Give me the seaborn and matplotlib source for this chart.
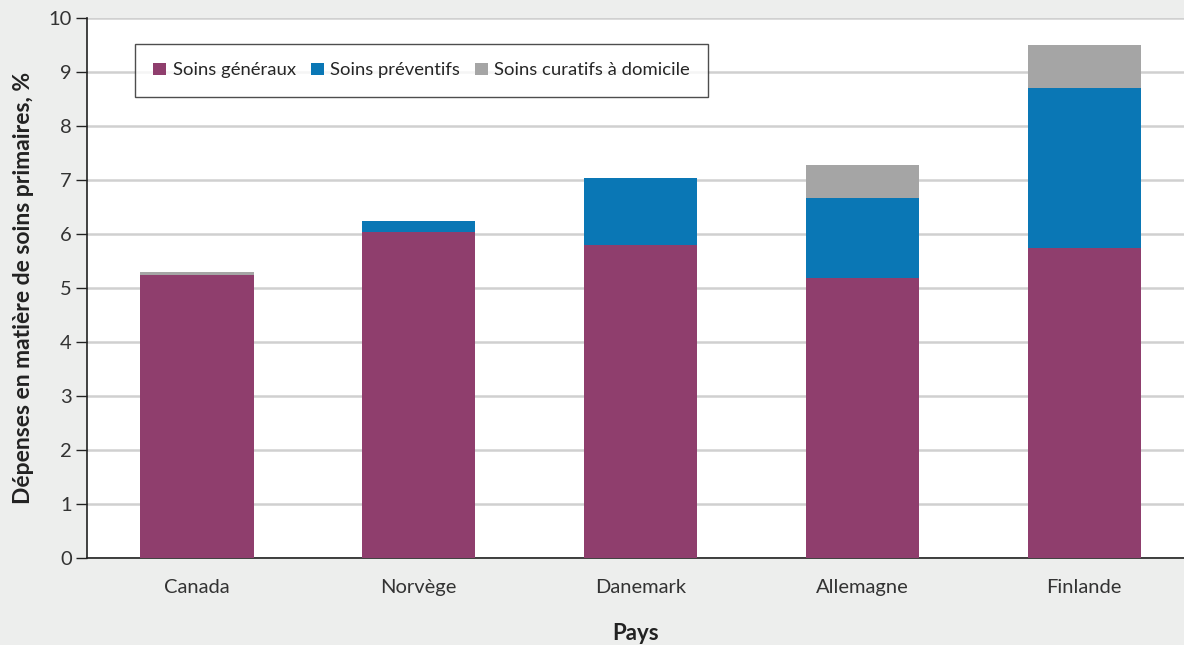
import matplotlib
matplotlib.use("Agg")
import matplotlib.pyplot as plt
import seaborn as sns
import pandas as pd
import numpy as np
from matplotlib.patches import Patch

countries = ["Canada", "Norvège", "Danemark", "Allemagne", "Finlande"]
soins_generaux = [5.24, 6.04, 5.80, 5.19, 5.75]
soins_preventifs = [0.00, 0.21, 1.24, 1.48, 2.96]
soins_curatifs = [0.06, 0.00, 0.00, 0.61, 0.79]
series_names = ["Soins généraux", "Soins préventifs", "Soins curatifs à domicile"]
colors = ["#8f3e6d", "#0a77b5", "#a5a5a5"]

sns.set_theme(style="white")
plt.rcParams["font.family"] = ["Lato", "DejaVu Sans"]

fig = plt.figure(figsize=(11.84, 6.45), dpi=100)
fig.patch.set_facecolor("#edeeed")
ax = fig.add_axes([87 / 1184, 87 / 645, 1 - 87 / 1184, (558 - 18) / 645])
ax.set_facecolor("white")

layers = [soins_generaux, soins_preventifs, soins_curatifs]
cum = np.cumsum(np.array(layers), axis=0)
# draw from top to bottom so lower layers overlay
for i in range(len(layers) - 1, -1, -1):
    df = pd.DataFrame({"Pays": countries, "val": cum[i]})
    sns.barplot(data=df, x="Pays", y="val", color=colors[i], width=0.51,
                saturation=1, ax=ax, zorder=3, edgecolor="none", linewidth=0)

ax.set_ylim(0, 10)
ax.set_xlim(-0.496, 4.45)
ax.set_yticks(range(0, 11))
ax.yaxis.grid(True, color="#d0d0d0", linewidth=1.8, zorder=0)
ax.set_axisbelow(True)
for s in ["top", "right"]:
    ax.spines[s].set_visible(False)
for s in ["left", "bottom"]:
    ax.spines[s].set_color("#222222")
    ax.spines[s].set_linewidth(1.2)
ax.tick_params(axis="y", which="major", left=True, length=8, width=1, color="#222222",
               labelsize=14.5, labelcolor="#333333", pad=3)
ax.tick_params(axis="x", bottom=False, labelsize=14.5, labelcolor="#333333", pad=9)

ax.set_xlabel("Pays", fontsize=16, fontweight="bold", color="#222222",
              verticalalignment="center")
ax.xaxis.set_label_coords(0.5, -75 / 540)
ax.set_ylabel("Dépenses en matière de soins primaires, %", fontsize=16.5,
              fontweight="bold", color="#222222", labelpad=10)

handles = [Patch(facecolor=c, edgecolor="none", label=n) for c, n in zip(colors, series_names)]
leg = ax.legend(handles=handles, ncol=3, loc="upper left",
                bbox_to_anchor=((135 - 87) / (1184 - 87), (558 - 44) / 540),
                frameon=True, fancybox=False, edgecolor="#222222", fontsize=13.3,
                handlelength=0.7, handleheight=0.7, handletextpad=0.35,
                columnspacing=0.8, borderpad=1.0, borderaxespad=0)
leg.get_frame().set_linewidth(1.0)
leg.get_frame().set_facecolor("white")
leg.set_zorder(5)

fig.savefig("out.png", dpi=100, facecolor=fig.get_facecolor())
